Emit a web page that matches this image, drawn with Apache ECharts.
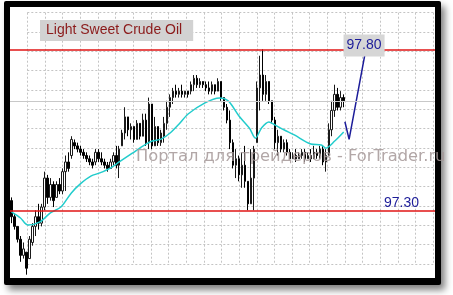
<!DOCTYPE html>
<html>
<head>
<meta charset="utf-8">
<style>
html,body{margin:0;padding:0;background:#fff;}
#chart{width:453px;height:295px;}
</style>
<script src="https://cdn.jsdelivr.net/npm/echarts@6/dist/echarts.min.js"></script>
</head>
<body>
<div id="chart"></div>
<script>
// ---- data ----
const chartTitle = 'Light Sweet Crude Oil';
const watermark = 'Портал для трейдеров - ForTrader.ru';
const slotCount = 142; // bar slots on the time axis (bars + free space on the right)
// [open, close, low, high]
const ohlc = [
  [97.33,97.28,97.26,97.34],[97.28,97.25,97.24,97.29],[97.25,97.21,97.20,97.25],[97.21,97.16,97.14,97.22],
  [97.16,97.18,97.15,97.20],[97.17,97.12,97.10,97.17],[97.15,97.21,97.15,97.22],[97.20,97.25,97.19,97.26],
  [97.25,97.28,97.22,97.30],[97.28,97.26,97.24,97.32],[97.26,97.31,97.25,97.32],[97.31,97.40,97.30,97.42],
  [97.40,97.34,97.32,97.41],[97.34,97.38,97.33,97.40],[97.38,97.33,97.31,97.39],[97.34,97.38,97.34,97.39],
  [97.38,97.36,97.35,97.40],[97.36,97.42,97.35,97.43],[97.42,97.45,97.36,97.47],[97.45,97.43,97.42,97.48],
  [97.47,97.52,97.46,97.53],[97.51,97.50,97.49,97.52],[97.50,97.49,97.48,97.51],[97.49,97.48,97.47,97.50],
  [97.48,97.47,97.46,97.49],[97.47,97.46,97.45,97.48],[97.46,97.45,97.44,97.47],[97.45,97.44,97.43,97.46],
  [97.45,97.48,97.44,97.49],[97.48,97.46,97.45,97.49],[97.46,97.45,97.44,97.48],[97.45,97.44,97.43,97.46],
  [97.44,97.43,97.42,97.45],[97.43,97.45,97.43,97.46],[97.45,97.47,97.44,97.48],[97.47,97.44,97.43,97.50],
  [97.44,97.49,97.40,97.50],[97.50,97.54,97.50,97.55],[97.54,97.59,97.52,97.62],[97.59,97.55,97.53,97.59],
  [97.55,97.56,97.52,97.57],[97.56,97.52,97.51,97.56],[97.52,97.57,97.52,97.58],[97.57,97.53,97.52,97.57],
  [97.53,97.58,97.53,97.60],[97.58,97.51,97.50,97.60],[97.51,97.63,97.49,97.65],[97.63,97.50,97.49,97.63],
  [97.50,97.56,97.50,97.59],[97.56,97.51,97.50,97.56],[97.51,97.54,97.50,97.55],[97.53,97.57,97.51,97.59],
  [97.57,97.62,97.55,97.64],[97.62,97.65,97.59,97.66],[97.65,97.67,97.63,97.68],[97.67,97.66,97.65,97.69],
  [97.66,97.67,97.65,97.68],[97.67,97.66,97.65,97.69],[97.66,97.67,97.65,97.67],[97.67,97.66,97.65,97.67],
  [97.67,97.69,97.66,97.70],[97.69,97.71,97.67,97.72],[97.71,97.69,97.68,97.72],[97.69,97.70,97.68,97.71],
  [97.70,97.69,97.68,97.70],[97.69,97.68,97.67,97.70],[97.68,97.67,97.66,97.70],[97.67,97.69,97.66,97.70],
  [97.69,97.67,97.66,97.69],[97.67,97.70,97.67,97.71],[97.70,97.65,97.64,97.70],[97.65,97.62,97.61,97.65],
  [97.62,97.58,97.57,97.63],[97.58,97.51,97.49,97.61],[97.51,97.44,97.43,97.52],[97.44,97.46,97.40,97.49],
  [97.46,97.41,97.39,97.47],[97.41,97.44,97.37,97.48],[97.44,97.39,97.37,97.50],[97.39,97.32,97.30,97.39],
  [97.32,97.40,97.32,97.49],[97.40,97.49,97.30,97.50],[97.51,97.68,97.51,97.70],[97.68,97.72,97.61,97.78],
  [97.72,97.66,97.64,97.80],[97.66,97.70,97.64,97.72],[97.70,97.64,97.63,97.70],[97.64,97.58,97.57,97.64],
  [97.58,97.51,97.49,97.59],[97.51,97.53,97.47,97.55],[97.53,97.49,97.48,97.53],[97.49,97.51,97.48,97.52],
  [97.51,97.48,97.47,97.52],[97.48,97.46,97.46,97.49],[97.46,97.47,97.46,97.48],[97.47,97.46,97.45,97.49],
  [97.46,97.47,97.46,97.48],[97.47,97.48,97.46,97.49],[97.48,97.46,97.45,97.49],[97.46,97.47,97.46,97.48],
  [97.47,97.46,97.45,97.49],[97.46,97.48,97.46,97.50],[97.48,97.47,97.46,97.49],[97.47,97.49,97.46,97.50],
  [97.49,97.45,97.44,97.50],[97.45,97.47,97.42,97.49],[97.47,97.55,97.47,97.57],[97.55,97.61,97.53,97.64],
  [97.61,97.66,97.59,97.69],[97.66,97.62,97.61,97.68],[97.62,97.65,97.61,97.67],[97.65,97.64,97.62,97.66]
];
// moving average: [bar index, price]
const maPoints = [
  [0,97.295],[3,97.276],[5.5,97.254],[9.5,97.264],[13,97.292],[16.5,97.31],[20,97.354],[23,97.382],
  [26.5,97.406],[29.5,97.416],[33,97.431],[36,97.45],[40.5,97.478],[44,97.50],[47,97.515],[50,97.521],
  [53,97.54],[56,97.568],[59,97.599],[64.5,97.633],[69.5,97.649],[72.5,97.639],[76,97.593],[79.5,97.555],
  [81.5,97.524],[83.5,97.555],[86,97.574],[88,97.565],[91,97.55],[94.5,97.534],[100,97.506],[103.5,97.503],
  [105,97.493],[108,97.515],[111,97.543]
];
const levels = [97.80, 97.30];
const levelLabels = ['97.80', '97.30'];
const levelLabelPos = [[117.8, 97.812], [130.3, 97.322]];
const arrowPath = [[111.4, 97.575], [112.8, 97.520], [118.1, 97.785]];
const bidPrice = ohlc[ohlc.length - 1][1];
const gridCols = 23, gridRows = 13;

// ---- chart ----
const slots = Array.from({length: slotCount}, (_, i) => i);
const chart = echarts.init(document.getElementById('chart'), null, {renderer: 'canvas'});
const gridAxisLine = {show: true, lineStyle: {color: '#c4c4c4', type: [2, 2], width: 1}};
const gridAxis = (max) => ({
  type: 'value', min: 0, max: max, interval: 1,
  axisLine: {show: false}, axisTick: {show: false}, axisLabel: {show: false},
  splitLine: gridAxisLine
});
const font = 'Liberation Sans';
chart.setOption({
  animation: false,
  backgroundColor: '#ffffff',
  title: {
    text: chartTitle, left: 40, top: 20,
    backgroundColor: '#d2d2d2', padding: [3, 11, 4, 6],
    textStyle: {fontFamily: font, fontSize: 14, fontWeight: 'normal', color: '#8b1a1a', lineHeight: 14}
  },
  grid: [
    {left: 10, right: 18, top: 7, bottom: 17},
    {left: 27.3, right: 19.7, top: 12.7, bottom: 31}
  ],
  xAxis: [
    {type: 'category', gridIndex: 0, data: slots, boundaryGap: true, show: false},
    {type: 'value', gridIndex: 0, min: -0.5, max: slotCount - 0.5, show: false},
    Object.assign({gridIndex: 1}, gridAxis(gridCols))
  ],
  yAxis: [
    {type: 'value', gridIndex: 0, min: 97.0897, max: 97.9313, show: false, scale: true},
    Object.assign({gridIndex: 1}, gridAxis(gridRows))
  ],
  graphic: [
    {type: 'rect', z: -20, shape: {x: 4, y: 1, width: 437, height: 284, r: 2},
     style: {fill: '#000', shadowBlur: 7, shadowOffsetX: 4, shadowOffsetY: 5, shadowColor: 'rgba(0,0,0,0.5)'}},
    {type: 'rect', z: -19, shape: {x: 10, y: 7, width: 425, height: 271}, style: {fill: '#fff'}},
    {type: 'text', z: 100, x: 136, y: 149,
     style: {text: watermark, fill: 'rgba(165,152,152,0.85)', font: '16.3px "DejaVu Sans"', align: 'left', verticalAlign: 'top'}}
  ],
  series: [
    {
      type: 'candlestick', xAxisIndex: 0, yAxisIndex: 0, data: ohlc, barWidth: 2, z: 2,
      itemStyle: {color: '#ffffff', color0: '#000000', borderColor: '#1a1a1a', borderColor0: '#000000', borderWidth: 1},
      markLine: {
        silent: true, symbol: 'none', label: {show: false},
        lineStyle: {color: '#c8c8c8', type: 'solid', width: 1},
        data: [{yAxis: bidPrice}]
      }
    },
    {
      type: 'line', xAxisIndex: 1, yAxisIndex: 0, data: maPoints, symbol: 'none', smooth: 0.3, z: 3,
      lineStyle: {color: '#22cccc', width: 1.5}
    },
    {
      type: 'line', xAxisIndex: 1, yAxisIndex: 0, data: arrowPath, symbol: 'none', z: 4,
      lineStyle: {color: '#1c1c99', width: 1.5},
      markPoint: {
        symbol: 'rect', symbolSize: 0.01, silent: true,
        data: [
          {coord: levelLabelPos[0], label: {formatter: levelLabels[0], backgroundColor: '#d6d6d6', padding: [1, 3, 7, 3]}},
          {coord: levelLabelPos[1], label: {formatter: levelLabels[1]}}
        ],
        label: {show: true, position: 'inside', color: '#1c1c99', fontSize: 14, fontFamily: font, lineHeight: 14}
      }
    },
    {
      type: 'line', xAxisIndex: 1, yAxisIndex: 0, data: [], z: 6,
      markLine: {
        silent: true, symbol: 'none', label: {show: false},
        lineStyle: {color: '#e01414', type: 'solid', width: 1.5},
        data: levels.map(v => ({yAxis: v}))
      }
    }
  ]
});
</script>
</body>
</html>
